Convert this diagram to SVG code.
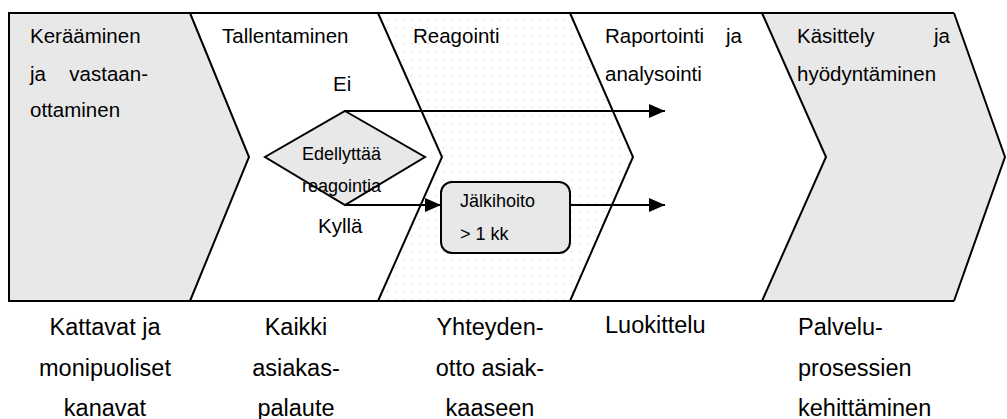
<svg xmlns="http://www.w3.org/2000/svg" width="1007" height="419" viewBox="0 0 1007 419">
  <defs>
    <pattern id="dots" patternUnits="userSpaceOnUse" width="8" height="8">
      <rect x="3" y="3" width="1.4" height="1.4" fill="#dcdcdc"/>
    </pattern>
    <marker id="arrow" viewBox="0 0 16 14" refX="16" refY="7" markerWidth="16" markerHeight="14" markerUnits="userSpaceOnUse" orient="auto">
      <path d="M0,0 L16,7 L0,14 Z" fill="#000"/>
    </marker>
  </defs>
  <style>
    text { font-family: "Liberation Sans", Arial, sans-serif; fill: #000; }
    .stage { font-size: 20.5px; }
    .small { font-size: 18px; }
    .bottom { font-size: 23.5px; }
    .mid { text-anchor: middle; }
    .edge { fill: none; stroke: #000; stroke-width: 2; stroke-linejoin: miter; }
    .gray { fill: #e8e8e8; }
    .flow { fill: none; stroke: #000; stroke-width: 2; marker-end: url(#arrow); }
  </style>
  <rect width="1007" height="419" fill="#fff"/>

  <!-- process chevrons -->
  <g id="stage-keraaminen">
    <polygon class="gray" points="9,13 190,13 249,157 190,301 9,301"/>
    <text class="stage" x="30" y="43">Kerääminen</text>
    <text class="stage" y="81"><tspan x="30">ja</tspan><tspan x="148" text-anchor="end">vastaan-</tspan></text>
    <text class="stage" x="30" y="117">ottaminen</text>
  </g>
  <g id="stage-tallentaminen">
    <text class="stage" x="222" y="43">Tallentaminen</text>
  </g>
  <g id="stage-reagointi">
    <polygon fill="url(#dots)" points="378,13 570,13 633,157 570,301 378,301 442,157"/>
    <text class="stage" x="413" y="43">Reagointi</text>
  </g>
  <g id="stage-raportointi">
    <text class="stage" y="43"><tspan x="605">Raportointi</tspan><tspan x="742" text-anchor="end">ja</tspan></text>
    <text class="stage" x="605" y="81">analysointi</text>
  </g>
  <g id="stage-kasittely">
    <polygon class="gray" points="762,13 954,13 1005,157 954,301 762,301 826,157"/>
    <text class="stage" y="43"><tspan x="797">Käsittely</tspan><tspan x="950" text-anchor="end">ja</tspan></text>
    <text class="stage" x="797" y="81">hyödyntäminen</text>
  </g>

  <!-- outline and stage boundaries -->
  <g id="frame">
    <polyline class="edge" points="190,13 9,13 9,301 190,301"/>
    <line class="edge" x1="190" y1="13" x2="954" y2="13"/>
    <line class="edge" x1="190" y1="301" x2="954" y2="301"/>
    <polyline class="edge" points="190,13 249,157 190,301"/>
    <polyline class="edge" points="378,13 442,157 378,301"/>
    <polyline class="edge" points="570,13 633,157 570,301"/>
    <polyline class="edge" points="762,13 826,157 762,301"/>
    <polyline class="edge" points="954,13 1005,157 954,301"/>
  </g>

  <!-- decision -->
  <g id="decision">
    <polygon class="gray" points="345,111 425,157 345,205 265,157" stroke="#000" stroke-width="2"/>
    <text class="small" x="302" y="160">Edellyttää</text>
    <text class="small" x="302" y="192">reagointia</text>
  </g>

  <!-- follow-up box -->
  <g id="jalkihoito">
    <rect class="gray" x="441" y="182" width="129" height="71" rx="11" ry="11" stroke="#000" stroke-width="2"/>
    <text class="small" x="460" y="207">Jälkihoito</text>
    <text class="small" x="460" y="240">&gt; 1 kk</text>
  </g>

  <!-- connectors -->
  <g id="connectors">
    <line class="flow" x1="345" y1="111" x2="665" y2="111"/>
    <line class="flow" x1="345" y1="205" x2="441" y2="205"/>
    <line class="flow" x1="570" y1="205" x2="665" y2="205"/>
    <text class="stage" x="333" y="91">Ei</text>
    <text class="stage" x="318" y="233">Kyllä</text>
  </g>

  <!-- goals under each stage -->
  <g id="goal-kanavat">
    <text class="bottom mid" x="105" y="335">Kattavat ja</text>
    <text class="bottom mid" x="105" y="376">monipuoliset</text>
    <text class="bottom mid" x="105" y="416">kanavat</text>
  </g>
  <g id="goal-palaute">
    <text class="bottom mid" x="296" y="335">Kaikki</text>
    <text class="bottom mid" x="296" y="376">asiakas-</text>
    <text class="bottom mid" x="296" y="416">palaute</text>
  </g>
  <g id="goal-yhteydenotto">
    <text class="bottom mid" x="490" y="335">Yhteyden-</text>
    <text class="bottom mid" x="490" y="376">otto asiak-</text>
    <text class="bottom mid" x="490" y="416">kaaseen</text>
  </g>
  <g id="goal-luokittelu">
    <text class="bottom" x="605" y="333">Luokittelu</text>
  </g>
  <g id="goal-kehittaminen">
    <text class="bottom" x="798" y="335">Palvelu-</text>
    <text class="bottom" x="798" y="376">prosessien</text>
    <text class="bottom" x="798" y="416">kehittäminen</text>
  </g>
</svg>
